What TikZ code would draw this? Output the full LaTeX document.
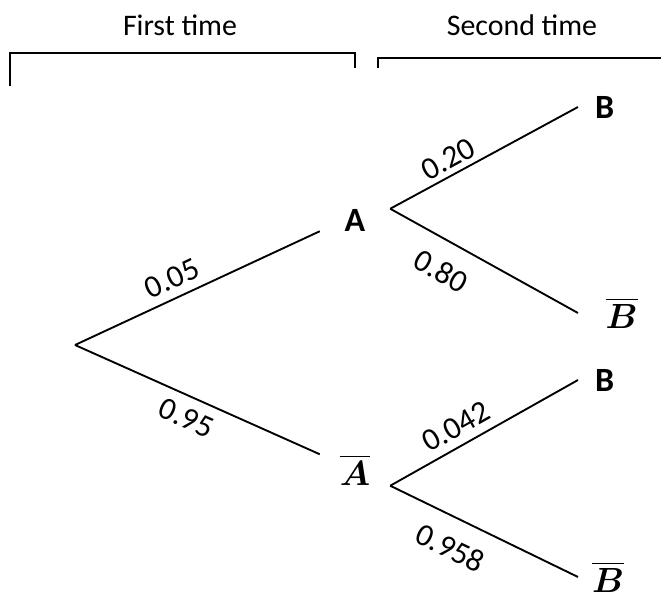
\documentclass[tikz,border=0pt]{standalone}
\usepackage{amsmath,bm}
\usepackage{fontspec}
\setmainfont{Carlito}
\usetikzlibrary{positioning}

\newcommand{\barletter}[1]{\scalebox{1.2}{$\bm{\overline{#1}}$}}

\begin{document}
\begin{tikzpicture}[
  x=0.03cm, y=-0.03cm,
  font=\fontsize{25.5}{30}\selectfont,
  branch/.style={line width=1.6pt, draw=black},
  bracket/.style={line width=1.6pt, draw=black},
  event/.style={
    font=\fontsize{29}{34}\selectfont\bfseries,
    minimum width=2.1cm,
    minimum height=0.57cm,
    inner sep=0pt
  },
  outcome/.style={
    font=\fontsize{29}{34}\selectfont\bfseries,
    anchor=west,
    inner xsep=0.51cm,
    inner ysep=0pt
  },
  barred/.style={font=\fontsize{24}{28}\selectfont},
  prob/.style={sloped, font=\fontsize{27}{32}\selectfont, inner sep=5pt}
]
  \useasboundingbox (0,0) rectangle (661,597);

  \node (first) at (180,25) {First time};
  \node (second) at (522,25) {Second time};
  \draw[bracket] (10,86) -- (10,53) -- (355,53) -- (355,68);
  \draw[bracket] (378,68) -- (378,58) -- (661,58);

  \coordinate (root) at (75,345);
  \node[event] (A) at (355,220) {A};
  \node[event, barred] (notA) at (355,470) {\barletter{A}};
  \node[outcome] (AB) at (578,107) {B};
  \node[outcome, barred, inner xsep=0.82cm] (AnotB) at (578,313) {\barletter{B}};
  \node[outcome, barred, inner xsep=0.42cm] (notAnotB) at (578,577) {\barletter{B}};
  \node[outcome] (notAB) at (578,380) {B};

  \draw[branch] (root) -- node[prob, above, pos=0.43, inner sep=7pt] {0.05} (A.south west);
  \draw[branch] (root) -- node[prob, below, pos=0.49, inner sep=8.5pt] {0.95} (notA.north west);
  \draw[branch] (A.north east) -- node[prob, above, pos=0.35, inner sep=4pt] {0.20} (AB.west);
  \draw[branch] (A.north east) -- node[prob, below, pos=0.35, inner sep=15pt] {0.80} (AnotB.west);
  \draw[branch] (notA.south east) -- node[prob, above, pos=0.4, inner sep=7pt] {0.042} (notAB.west);
  \draw[branch] (notA.south east) -- node[prob, below, pos=0.39, inner sep=15pt] {0.958} (notAnotB.west);
\end{tikzpicture}
\end{document}
